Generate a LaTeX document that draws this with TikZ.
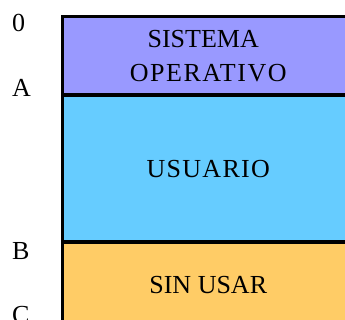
\documentclass[tikz,border=0pt]{standalone}
\usepackage{fontspec}
\setmainfont{Liberation Serif}
\usepackage{xcolor}
\usetikzlibrary{positioning}

\definecolor{sopurple}{HTML}{9999FF}
\definecolor{usercyan}{HTML}{66CCFF}
\definecolor{freeorange}{HTML}{FFCC66}

\tikzset{
	memblock/.style={draw=black, line width=2.5pt, inner sep=0pt,
		minimum width=292pt, align=center,
		font=\fontsize{26}{34}\selectfont},
	addr/.style={anchor=base west, inner sep=0pt,
		font=\fontsize{26}{30}\selectfont}
}

\begin{document}
\begin{tikzpicture}[x=1pt,y=-1pt]
				%\draw[help lines] (0,0) grid (345,320);
				\useasboundingbox (0,0) rectangle (345,320);
				\clip (0,0) rectangle (345,320);
				
				\node[memblock, fill=sopurple, minimum height=78pt, anchor=north west] (so) at (61,15.5)
					{SISTEMA\hspace*{10pt}\\{\addfontfeature{LetterSpace=6}OPERATIVO}};
				\node[memblock, fill=usercyan, minimum height=145pt, below=-1pt of so] (usuario)
					{\addfontfeature{LetterSpace=5}USUARIO};
				\node[memblock, fill=freeorange, minimum height=85pt, below=-1pt of usuario] (libre)
					{SIN USAR};
				
				\node[addr] (d0) at (12,32) {0};
				\node[addr] (dA) at (12,97) {A};
				\node[addr] (dB) at (12,259) {B};
				\node[addr] (dC) at (12,323) {C};
			\end{tikzpicture}
\end{document}
